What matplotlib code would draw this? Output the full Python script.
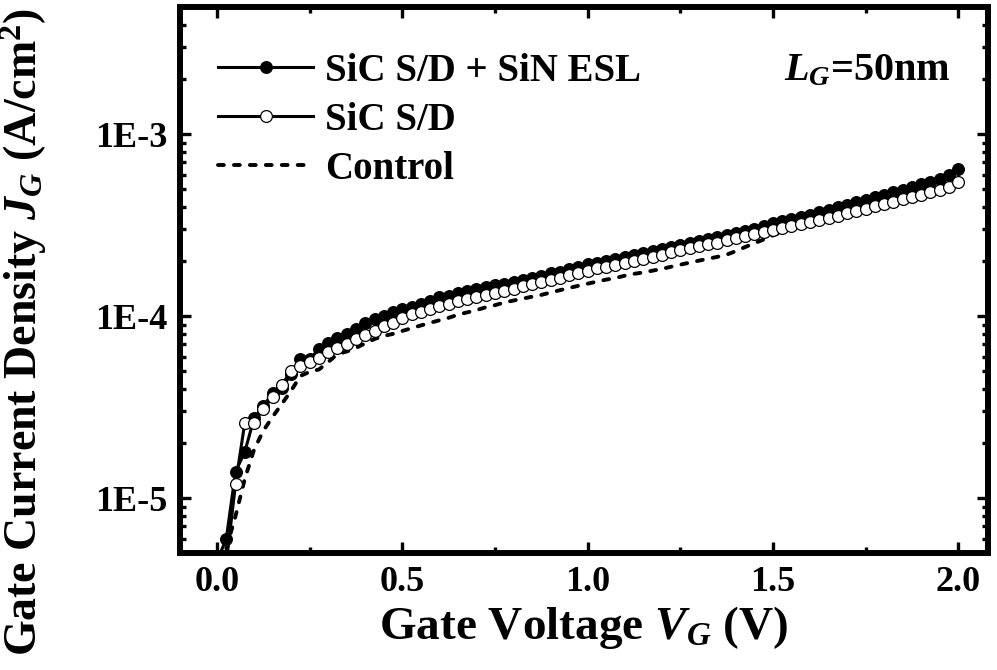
import numpy as np
import matplotlib
matplotlib.use("Agg")
import matplotlib.pyplot as plt
from matplotlib.ticker import LogLocator, FixedLocator, FuncFormatter, MultipleLocator, NullFormatter

plt.rcParams['font.family'] = ['Liberation Serif', 'DejaVu Serif']
plt.rcParams['font.weight'] = 'bold'
plt.rcParams['mathtext.fontset'] = 'custom'
plt.rcParams['mathtext.rm'] = 'Liberation Serif:bold'
plt.rcParams['mathtext.bf'] = 'Liberation Serif:bold'
plt.rcParams['mathtext.it'] = 'Liberation Serif:italic:bold'

# Gate voltage sweep (V), 25 mV steps
vg = np.round(np.arange(0, 2.0001, 0.025), 3)

# Gate current density (A/cm^2)
jg_sic_esl = [
    4.5e-6, 6.0e-6, 1.4e-5, 1.8e-5, 2.75e-5, 3.2e-5, 3.8e-5, 4.05e-5, 4.8e-5, 5.8e-5,
    5.8e-5, 6.6e-5, 7.1e-5, 7.6e-5, 8.0e-5, 8.5e-5, 9.2e-5, 9.7e-5, 1.0e-4, 1.05e-4,
    1.10e-4, 1.13e-4, 1.17e-4, 1.21e-4, 1.27e-4, 1.30e-4, 1.34e-4, 1.37e-4, 1.41e-4, 1.44e-4,
    1.48e-4, 1.51e-4, 1.55e-4, 1.59e-4, 1.62e-4, 1.67e-4, 1.72e-4, 1.76e-4, 1.82e-4, 1.86e-4,
    1.93e-4, 1.97e-4, 2.02e-4, 2.07e-4, 2.12e-4, 2.17e-4, 2.23e-4, 2.28e-4, 2.34e-4, 2.40e-4,
    2.46e-4, 2.52e-4, 2.59e-4, 2.65e-4, 2.72e-4, 2.79e-4, 2.86e-4, 2.94e-4, 3.02e-4, 3.12e-4,
    3.24e-4, 3.33e-4, 3.42e-4, 3.52e-4, 3.62e-4, 3.73e-4, 3.84e-4, 3.96e-4, 4.08e-4, 4.22e-4,
    4.36e-4, 4.50e-4, 4.65e-4, 4.80e-4, 4.96e-4, 5.12e-4, 5.30e-4, 5.48e-4, 5.70e-4, 5.95e-4,
    6.45e-4,
]
jg_sic = [
    4.3e-6, 4.4e-6, 1.2e-5, 2.6e-5, 2.6e-5, 3.1e-5, 3.6e-5, 4.2e-5, 5.0e-5, 5.3e-5,
    5.6e-5, 5.9e-5, 6.4e-5, 6.7e-5, 7.0e-5, 7.5e-5, 7.9e-5, 8.3e-5, 8.8e-5, 9.2e-5,
    9.8e-5, 1.03e-4, 1.06e-4, 1.10e-4, 1.14e-4, 1.17e-4, 1.21e-4, 1.24e-4, 1.28e-4, 1.31e-4,
    1.35e-4, 1.38e-4, 1.42e-4, 1.46e-4, 1.50e-4, 1.54e-4, 1.59e-4, 1.63e-4, 1.68e-4, 1.73e-4,
    1.78e-4, 1.83e-4, 1.87e-4, 1.92e-4, 1.97e-4, 2.02e-4, 2.07e-4, 2.12e-4, 2.18e-4, 2.24e-4,
    2.30e-4, 2.36e-4, 2.42e-4, 2.48e-4, 2.54e-4, 2.61e-4, 2.68e-4, 2.75e-4, 2.82e-4, 2.89e-4,
    2.96e-4, 3.04e-4, 3.12e-4, 3.20e-4, 3.29e-4, 3.38e-4, 3.47e-4, 3.57e-4, 3.67e-4, 3.78e-4,
    3.89e-4, 4.01e-4, 4.13e-4, 4.25e-4, 4.38e-4, 4.51e-4, 4.65e-4, 4.80e-4, 4.96e-4, 5.14e-4,
    5.45e-4,
]
jg_control = [
    4.5e-6, 5.3e-6, 8.0e-6, 1.28e-5, 1.85e-5, 2.35e-5, 2.8e-5, 3.3e-5, 3.9e-5, 4.7e-5,
    4.95e-5, 5.1e-5, 5.6e-5, 6.2e-5, 6.4e-5, 6.7e-5, 7.1e-5, 7.5e-5, 7.8e-5, 8.0e-5,
    8.3e-5, 8.6e-5, 8.9e-5, 9.2e-5, 9.5e-5, 9.8e-5, 1.02e-4, 1.05e-4, 1.08e-4, 1.12e-4,
    1.15e-4, 1.19e-4, 1.22e-4, 1.25e-4, 1.28e-4, 1.31e-4, 1.35e-4, 1.39e-4, 1.43e-4, 1.47e-4,
    1.51e-4, 1.55e-4, 1.59e-4, 1.62e-4, 1.67e-4, 1.71e-4, 1.74e-4, 1.78e-4, 1.82e-4, 1.87e-4,
    1.92e-4, 1.97e-4, 2.02e-4, 2.07e-4, 2.12e-4, 2.18e-4, 2.28e-4, 2.40e-4, 2.52e-4, 2.64e-4,
    2.78e-4, 2.92e-4, 3.05e-4, 3.14e-4, 3.22e-4, 3.31e-4, 3.40e-4, 3.50e-4, 3.60e-4, 3.70e-4,
    3.81e-4, 3.93e-4, 4.05e-4, 4.17e-4, 4.29e-4, 4.42e-4, 4.56e-4, 4.70e-4, 4.86e-4, 5.04e-4,
    5.30e-4,
]

series_labels = ['SiC S/D + SiN ESL', 'SiC S/D', 'Control']
x_ticks = [0.0, 0.5, 1.0, 1.5, 2.0]
y_ticks = [1e-5, 1e-4, 1e-3]
y_tick_labels = ['1E-5', '1E-4', '1E-3']

fig = plt.figure(figsize=(9.97, 6.70), dpi=100)
ax = fig.add_axes([0.1805, 0.1746, 0.8104, 0.8149])

ms = 8.5
lw = 2.2
h_esl, = ax.plot(vg, jg_sic_esl, '-', color='black', lw=lw, marker='o', ms=ms,
                 mfc='black', mec='black', mew=0.8, zorder=3)
h_ctrl, = ax.plot(vg, jg_control, color='black', lw=2.8, ls=(0, (1.5, 2.6)),
                  dash_capstyle='round', zorder=4)
h_sic, = ax.plot(vg, jg_sic, '-', color='black', lw=lw, marker='o', ms=ms,
                 mfc='white', mec='black', mew=0.9, zorder=5)

ax.set_yscale('log')
ax.set_xlim(-0.1, 2.08)
ax.set_ylim(5e-6, 5e-3)

ax.xaxis.set_major_locator(FixedLocator(x_ticks))
ax.xaxis.set_minor_locator(MultipleLocator(0.25))
ax.xaxis.set_major_formatter(FuncFormatter(lambda v, p: f'{v:.1f}'))
ax.yaxis.set_major_locator(FixedLocator(y_ticks))
ax.yaxis.set_major_formatter(FuncFormatter(
    lambda v, p: dict(zip(y_ticks, y_tick_labels)).get(v, '')))
ax.yaxis.set_minor_locator(LogLocator(base=10, subs=np.arange(2, 10)))
ax.yaxis.set_minor_formatter(NullFormatter())

for s in ax.spines.values():
    s.set_linewidth(4.3)

ax.tick_params(which='both', direction='in', top=True, right=True,
               labelsize=26, width=2.4, pad=9)
ax.tick_params(which='major', length=8)
ax.tick_params(which='minor', length=4.5)
for lbl in ax.get_xticklabels() + ax.get_yticklabels():
    lbl.set_fontweight('bold')

ax.set_xlabel(r'Gate Voltage $\mathit{V}_{\mathit{G}}$ (V)', fontsize=34,
              fontweight='bold', labelpad=4)
ax.set_ylabel(r'Gate Current Density $\mathit{J}_{\mathit{G}}$ (A/cm$^{\mathbf{2}}$)',
              fontsize=33, fontweight='bold')
ax.yaxis.set_label_coords(-0.162, 0.404)

ax.text(0.747, 0.866, r'$\mathit{L}_{\mathit{G}}$=50nm', transform=ax.transAxes,
        fontsize=29, fontweight='bold', ha='left', va='baseline')

ax.legend([h_esl, h_sic, h_ctrl], series_labels,
          loc='upper left', bbox_to_anchor=(0.047, 0.916), frameon=False,
          prop={'family': 'Liberation Serif', 'weight': 'bold', 'size': 28},
          handlelength=2.45, handletextpad=0.3, labelspacing=0.31,
          borderpad=0.0, borderaxespad=0.0, numpoints=1)

fig.savefig('out.png', dpi=100)
